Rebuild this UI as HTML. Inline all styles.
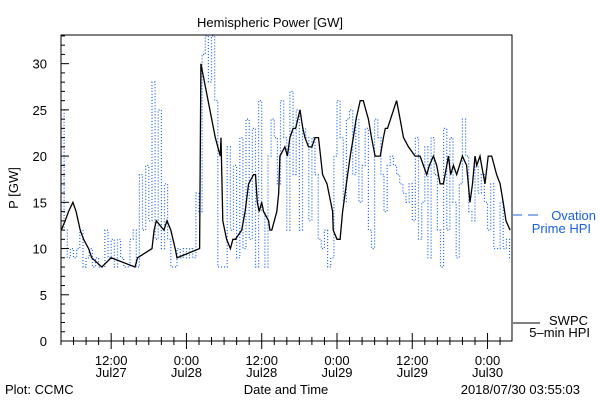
<!DOCTYPE html>
<html><head><meta charset="utf-8">
<style>
body{margin:0;background:#fff;}
svg{display:block;font-family:"Liberation Sans",sans-serif;}
text{font-size:13px;}
</style></head>
<body>
<svg id="chart" width="600" height="400">
<rect width="600" height="400" fill="#fff"/>
<text x="270" y="27" text-anchor="middle" font-size="15">Hemispheric Power [GW]</text>
<text x="18" y="188" text-anchor="middle" transform="rotate(-90 18 188)">P [GW]</text>
<text x="286" y="394" text-anchor="middle">Date and Time</text>
<text x="5" y="394">Plot: CCMC</text>
<text x="580" y="394" text-anchor="end">2018/07/30 03:55:03</text>
<g id="plot"></g>
<g>
<line x1="513" y1="215" x2="522" y2="215" stroke="#1a5fe0"/>
<line x1="528" y1="215" x2="538" y2="215" stroke="#1a5fe0"/>
<text x="596" y="220" text-anchor="end" fill="#1a5fe0">Ovation</text>
<text x="591" y="233" text-anchor="end" fill="#1a5fe0">Prime HPI</text>
</g>
<g>
<line x1="513" y1="323" x2="540" y2="323" stroke="#000"/>
<text x="588" y="325" text-anchor="end">SWPC</text>
<text x="590" y="337" text-anchor="end">5–min HPI</text>
</g>
</svg>
<script>
const yTicks=[0,5,10,15,20,25,30];
const xTickHours=[12,24,36,48,60,72];
const xTickTimes=["12:00","0:00","12:00","0:00","12:00","0:00"];
const xTickDates=["Jul27","Jul28","Jul28","Jul29","Jul29","Jul30"];
const swpcHours=[4.03,4.67,5.2,5.9,6.4,7.06,7.6,8.4,8.9,10.5,12,15.8,16.2,18.5,18.85,19.2,20.4,20.9,21.5,22.2,22.5,26.1,26.3,28.6,29.4,29.5,29.8,30.4,31,31.4,31.8,32.8,33.35,33.9,34.7,35,35.3,35.6,36,36.3,37.1,37.3,37.6,38.4,38.7,38.9,39.7,40.1,40.5,41,41.4,42.1,42.55,42.9,43.45,44,44.5,45.05,45.7,46.4,47.3,47.4,48,48.5,48.9,49.5,50.1,50.6,51.05,51.7,52.2,52.6,53,53.5,54.07,54.9,55.4,55.7,56.05,57.5,58.06,58.6,59.4,60.45,61.25,62.3,62.73,63.37,63.9,64.43,64.96,65.5,65.76,66.13,66.55,67.08,68,68.67,69.2,69.6,70,70.27,70.8,71.06,71.6,72.1,72.66,73.45,74,74.5,74.95,75.6,75.9];
const swpcValues=[12,13,14,15,14,12,11,10,9,8,9,8,9,10,12,13,12,13,12,10,9,10,30,22,20,22,13,11,10,11,11,12,14,17,18,18,15,14,15,14,13,12,12,14,16,20,21,20,22,23,23,25,23,22,21,21,22,22,18,17,14,12,11,11,14,17,20,22,24,26,26,25,24,22,20,20,22,23,23,26,24,22,21,20,20,18,19,20,19,17,17,19,20,18,19,18,20,19,15,17,20,19,20,19,17,20,20,18,17,15,13,12];
const ovStart=4, ovStep=0.5;
const ovValues=[25,12,9,10,9,10,12,8,9,10,8,9,8,8,12,9,11,8,11,9,8,8,11,12,8,18,12,19,13,28,11,25,10,17,11,8,8,10,9,10,9,10,9,16,14,31,33,28,33,26,8,8,8,21,12,19,9,22,10,24,11,23,8,26,14,8,20,24,22,17,26,22,12,27,18,25,12,23,22,13,22,18,11,10,12,8,9,20,26,22,15,24,25,18,24,15,19,23,12,10,24,22,18,14,19,20,19,18,17,16,15,17,13,22,11,15,21,9,22,18,12,8,23,12,22,15,9,17,24,20,14,13,19,16,18,15,12,17,10,10,15,10,11,9,9];
const L=61,R=512,T=35,B=341,H0=4.0,H1=75.9,YMAX=33.1;
const xs=h=>L+(h-H0)/(H1-H0)*(R-L);
const ys=v=>B-v/YMAX*(B-T);
const NS="http://www.w3.org/2000/svg";
const g=document.getElementById('plot');
function mk(tag,attrs){const e=document.createElementNS(NS,tag);for(const k in attrs)e.setAttribute(k,attrs[k]);g.appendChild(e);return e;}
// clip
const defs=mk('defs',{});
const cp=document.createElementNS(NS,'clipPath');cp.setAttribute('id','clip');
const cr=document.createElementNS(NS,'rect');cr.setAttribute('x',L);cr.setAttribute('y',T);cr.setAttribute('width',R-L);cr.setAttribute('height',B-T);
cp.appendChild(cr);defs.appendChild(cp);
// ovation step path
let d='';
ovValues.forEach((v,i)=>{const x0=xs(ovStart+i*ovStep),x1=xs(ovStart+(i+1)*ovStep);d+=(i?'L':'M')+x0.toFixed(1)+','+ys(v).toFixed(1)+'L'+Math.min(x1,R).toFixed(1)+','+ys(v).toFixed(1);});
const ov=mk('path',{d:d,fill:'none',stroke:'#1a5fe0','stroke-width':1.2,'stroke-dasharray':'1 2','clip-path':'url(#clip)'});


// swpc step path
d='';
swpcHours.forEach((h,i)=>{const x=xs(h),y=ys(swpcValues[i]);if(i===0)d+='M'+x.toFixed(1)+','+y.toFixed(1);else d+='L'+x.toFixed(1)+','+y.toFixed(1);});
const sw=mk('path',{d:d,fill:'none',stroke:'#000','stroke-width':1.3,'clip-path':'url(#clip)'});


// frame
const fr=mk('rect',{x:L,y:T,width:R-L,height:B-T,fill:'none',stroke:'#000'});


// y ticks
for(let v=0;v<=33;v++){const y=ys(v);const major=yTicks.includes(v);mk('line',{x1:L,x2:L+(major?8:4),y1:y,y2:y,stroke:'#000'});}
yTicks.forEach(v=>{const t=mk('text',{x:L-14,y:ys(v)+5,'text-anchor':'end'});t.textContent=v;

});
// x ticks
for(let h=4;h<=H1;h+=2){const x=xs(h);const major=h%12===0;mk('line',{x1:x,x2:x,y1:B,y2:B-(major?8:4),stroke:'#000'});mk('line',{x1:x,x2:x,y1:B,y2:B+(major?8:4),stroke:'#000'});}
xTickHours.forEach((h,i)=>{const x=xs(h);
const a=mk('text',{x:x,y:365,'text-anchor':'middle'});a.textContent=xTickTimes[i];


const b=mk('text',{x:x,y:377,'text-anchor':'middle'});b.textContent=xTickDates[i];

});
</script>
</body></html>
